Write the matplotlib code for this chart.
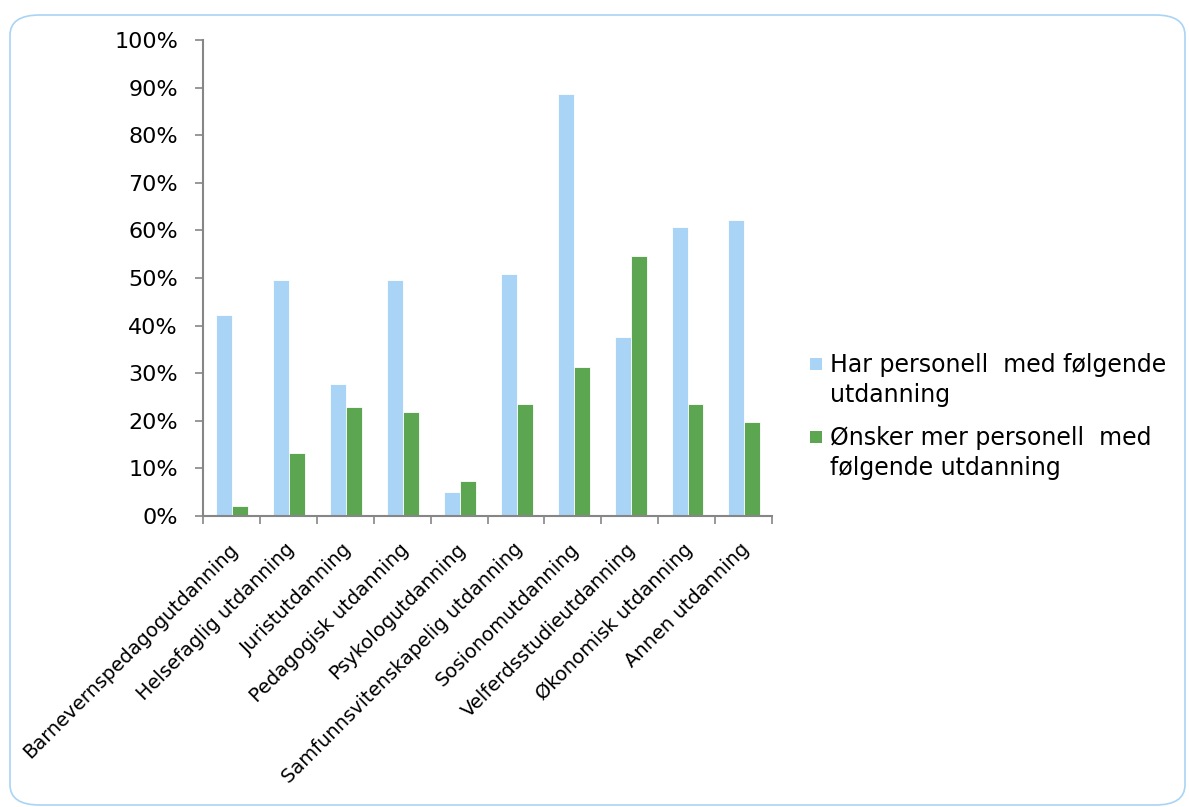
import matplotlib.pyplot as plt
from matplotlib.patches import FancyBboxPatch, Rectangle
from matplotlib.ticker import FuncFormatter

# utdanningstyper langs x-aksen
kategorier = ['Barnevernspedagogutdanning', 'Helsefaglig utdanning', 'Juristutdanning',
              'Pedagogisk utdanning', 'Psykologutdanning', 'Samfunnsvitenskapelig utdanning',
              'Sosionomutdanning', 'Velferdsstudieutdanning', 'Økonomisk utdanning',
              'Annen utdanning']
har_personell = [42.3, 49.6, 27.7, 49.6, 5.1, 50.8, 88.7, 37.7, 60.7, 62.2]
onsker_mer = [2.0, 13.2, 22.8, 21.9, 7.4, 23.5, 31.2, 54.6, 23.5, 19.7]
serie_navn = [['Har personell  med følgende', 'utdanning'],
              ['Ønsker mer personell  med', 'følgende utdanning']]

blaa = '#a9d4f5'
gronn = '#5da651'
akse = '#868686'

plt.rcParams['font.family'] = ['DejaVu Sans']

W, H = 1189, 807
fig = plt.figure(figsize=(W / 100, H / 100), dpi=100)

# avrundet ramme rundt hele figuren
ramme = FancyBboxPatch((10 / W, 2 / H), 1175 / W, 790 / H,
                       boxstyle='round,pad=0,rounding_size=0.025',
                       transform=fig.transFigure, facecolor='white',
                       edgecolor=blaa, linewidth=1.2, zorder=-5)
fig.patches.append(ramme)

ax = fig.add_axes([203 / W, 1 - 516 / H, (772 - 203) / W, (516 - 40) / H])
ax.set_facecolor('none')
ax.set_zorder(1)

x = list(range(len(kategorier)))
bredde = 0.28
ax.bar([i - bredde / 2 + 0.015 for i in x], har_personell, width=bredde, color=blaa,
       edgecolor='white', linewidth=0.6)
ax.bar([i + bredde / 2 + 0.015 for i in x], onsker_mer, width=bredde, color=gronn,
       edgecolor='white', linewidth=0.6)

ax.set_xlim(-0.5, len(kategorier) - 0.5)
ax.set_ylim(0, 100)
ax.set_yticks(range(0, 101, 10))
ax.yaxis.set_major_formatter(FuncFormatter(lambda v, p: f'{v:.0f}%'))

# tick-streker mellom kategoriene, tekst under hver gruppe
ax.set_xticks([i - 0.5 for i in range(len(kategorier) + 1)])
ax.set_xticklabels([])
ax.set_xticks([i - 0.06 for i in x], minor=True)
ax.set_xticklabels(kategorier, minor=True, rotation=45, ha='right',
                   rotation_mode='anchor', fontsize=14)
ax.tick_params(axis='x', which='minor', length=0, pad=17)
ax.tick_params(axis='x', which='major', length=6, width=1.2, color=akse, direction='out')
ax.tick_params(axis='y', length=6, width=1.2, color=akse, labelsize=16, pad=12)

for side in ['top', 'right']:
    ax.spines[side].set_visible(False)
for side in ['left', 'bottom']:
    ax.spines[side].set_color(akse)
    ax.spines[side].set_linewidth(1.5)

# forklaring: farget firkant ved første linje, to tekstlinjer per serie
for farge, linjer, y0 in [(blaa, serie_navn[0], 372), (gronn, serie_navn[1], 445)]:
    fig.patches.append(Rectangle((810 / W, 1 - (y0 - 2) / H), 12 / W, 12 / H,
                                 transform=fig.transFigure, facecolor=farge,
                                 edgecolor='none'))
    for k, linje in enumerate(linjer):
        fig.text(830 / W, 1 - (y0 + 30 * k) / H, linje, fontsize=17,
                 va='baseline', ha='left')

fig.savefig('out.png', dpi=100)
